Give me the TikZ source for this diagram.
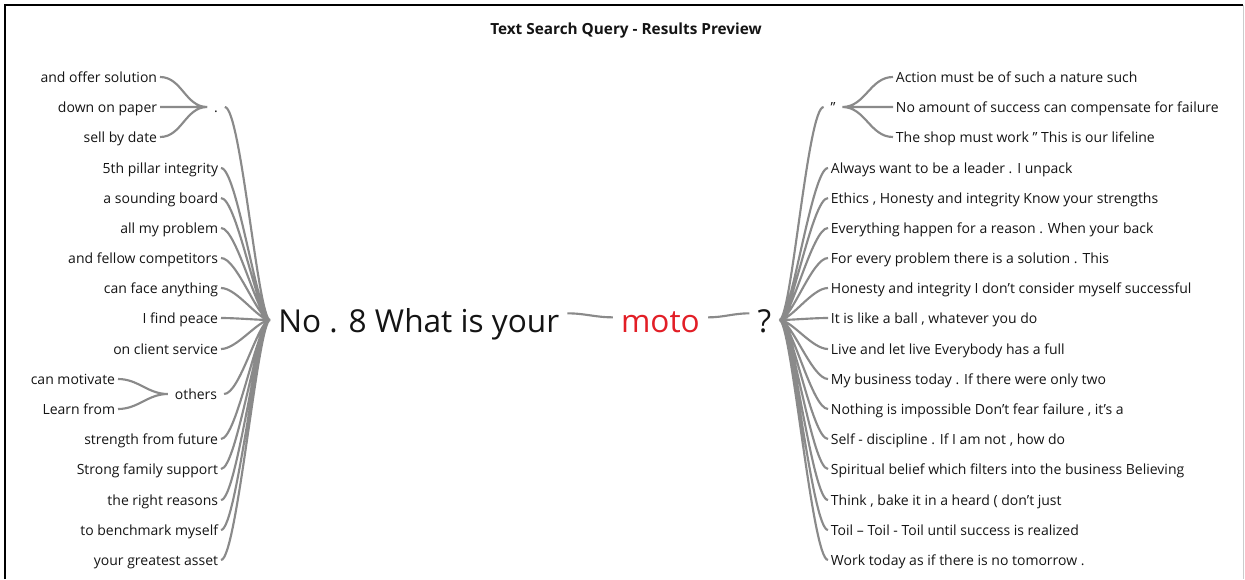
\documentclass[tikz,border=0pt]{standalone}
\usepackage{fontspec}
\setmainfont{Open Sans}
\usetikzlibrary{positioning}
\definecolor{linkgray}{RGB}{138,138,138}
\definecolor{motored}{RGB}{226,30,38}
\definecolor{inkgray}{RGB}{20,20,20}

\begin{document}
\begin{tikzpicture}[x=0.75pt,y=-0.75pt,
  word/.style={text=inkgray,font=\fontsize{10.5}{12}\selectfont,text height=9.5pt,text depth=1pt,inner xsep=2pt,inner ysep=0pt},
  joint/.style={word,inner xsep=5pt},
  big/.style={text=inkgray,font=\fontsize{23.7}{28}\selectfont,text height=19pt,text depth=0pt,inner xsep=6pt,inner ysep=0pt},
  link/.style={draw=linkgray,line width=1.6pt,out=0,in=180}]
\useasboundingbox (0,0) rectangle (1245,579);
\draw[line width=0.8pt] (5,579) -- (5,5) -- (1243,5);
\draw[gray!40,line width=0.6pt] (1243,5) -- (1243,579);

\node[font=\bfseries\fontsize{11.5}{13}\selectfont,text=inkgray] (title) at (626,31) {Text Search Query - Results Preview};

% centre line
\node[big,anchor=west] (query) at (270,320) {No . 8 What is your};
\node[big,text=motored,right=34pt of query] (moto) {moto};
\node[big,right=31pt of moto] (qmark) {?};
\draw[link] ([yshift=5pt]query.east) to ([yshift=2pt]moto.west);
\draw[link] ([yshift=2pt]moto.east) to ([yshift=5pt]qmark.west);

% left side
\node[word,anchor=east] (l0) at (160,77) {and offer solution};
\node[word,anchor=east] (l1) at (160,107) {down on paper};
\node[word,anchor=east] (l2) at (160,137) {sell by date};
\node[joint] (dotL) at (216,107) {.};
\node[word,anchor=east] (l3) at (221,168) {5th pillar integrity};
\node[word,anchor=east] (l4) at (221,198) {a sounding board};
\node[word,anchor=east] (l5) at (221,228) {all my problem};
\node[word,anchor=east] (l6) at (221,258) {and fellow competitors};
\node[word,anchor=east] (l7) at (221,288) {can face anything};
\node[word,anchor=east] (l8) at (221,318) {I find peace};
\node[word,anchor=east] (l9) at (221,349) {on client service};
\node[word,anchor=east] (l10) at (118,379) {can motivate};
\node[word,anchor=east] (l11) at (118,409) {Learn from};
\node[joint] (others) at (196,394) {others};
\node[word,anchor=east] (l12) at (221,439) {strength from future};
\node[word,anchor=east] (l13) at (221,469) {Strong family support};
\node[word,anchor=east] (l14) at (221,500) {the right reasons};
\node[word,anchor=east] (l15) at (221,530) {to benchmark myself};
\node[word,anchor=east] (l16) at (221,560) {your greatest asset};

\draw[link] (l0.east) to (dotL.west) (l1.east) to (dotL.west) (l2.east) to (dotL.west);
\draw[link] (l10.east) to (others.west) (l11.east) to (others.west);
\draw[link,out distance=12pt,in distance=9pt]
  (dotL.east) to (query.west) (l3.east) to (query.west) (l4.east) to (query.west)
  (l5.east) to (query.west) (l6.east) to (query.west) (l7.east) to (query.west)
  (l8.east) to (query.west) (l9.east) to (query.west) (others.east) to (query.west)
  (l12.east) to (query.west) (l13.east) to (query.west) (l14.east) to (query.west)
  (l15.east) to (query.west) (l16.east) to (query.west);

% right side
\node[joint] (quoteR) at (833,107) {”};
\node[word,anchor=west] (r0) at (893,77) {Action must be of such a nature such};
\node[word,anchor=west] (r1) at (893,107) {No amount of success can compensate for failure};
\node[word,anchor=west] (r2) at (893,137) {The shop must work ” This is our lifeline};
\node[word,anchor=west] (r3) at (828,168) {Always want to be a leader . I unpack};
\node[word,anchor=west] (r4) at (828,198) {Ethics , Honesty and integrity Know your strengths};
\node[word,anchor=west] (r5) at (828,228) {Everything happen for a reason . When your back};
\node[word,anchor=west] (r6) at (828,258) {For every problem there is a solution . This};
\node[word,anchor=west] (r7) at (828,288) {Honesty and integrity I don't consider myself successful};
\node[word,anchor=west] (r8) at (828,318) {It is like a ball , whatever you do};
\node[word,anchor=west] (r9) at (828,349) {Live and let live Everybody has a full};
\node[word,anchor=west] (r10) at (828,379) {My business today . If there were only two};
\node[word,anchor=west] (r11) at (828,409) {Nothing is impossible Don't fear failure , it's a};
\node[word,anchor=west] (r12) at (828,439) {Self - discipline . If I am not , how do};
\node[word,anchor=west] (r13) at (828,469) {Spiritual belief which filters into the business Believing};
\node[word,anchor=west] (r14) at (828,500) {Think , bake it in a heard ( don't just};
\node[word,anchor=west] (r15) at (828,530) {Toil – Toil - Toil until success is realized};
\node[word,anchor=west] (r16) at (828,560) {Work today as if there is no tomorrow .};

\draw[link] (quoteR.east) to (r0.west) (quoteR.east) to (r1.west) (quoteR.east) to (r2.west);
\draw[link,out distance=9pt,in distance=12pt]
  (qmark.east) to (quoteR.west) (qmark.east) to (r3.west) (qmark.east) to (r4.west)
  (qmark.east) to (r5.west) (qmark.east) to (r6.west) (qmark.east) to (r7.west)
  (qmark.east) to (r8.west) (qmark.east) to (r9.west) (qmark.east) to (r10.west)
  (qmark.east) to (r11.west) (qmark.east) to (r12.west) (qmark.east) to (r13.west)
  (qmark.east) to (r14.west) (qmark.east) to (r15.west) (qmark.east) to (r16.west);
\end{tikzpicture}
\end{document}
